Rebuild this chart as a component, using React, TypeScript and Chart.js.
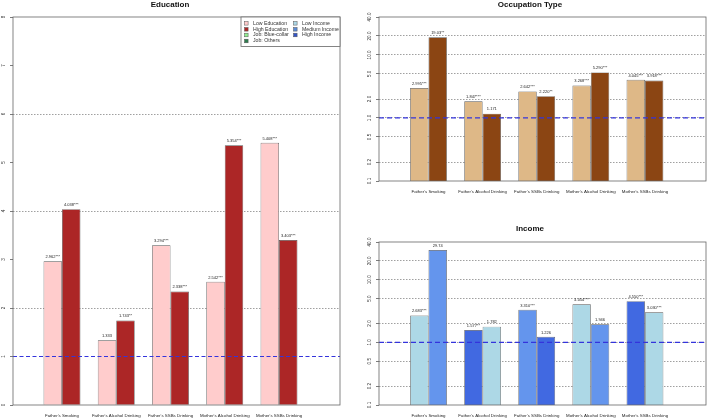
import { useEffect, useRef } from "react"
import { Chart, registerables, type ChartConfiguration, type Plugin } from "chart.js"

Chart.register(...registerables)

const FONT = "'Liberation Sans', Arial, Helvetica, sans-serif"
Chart.defaults.font.family = FONT
Chart.defaults.color = "#222"

// behaviours on the x axis, same order in all three panels
const behaviours = [
  "Father's Smoking",
  "Father's Alcohol Drinking",
  "Father's SSBs Drinking",
  "Mother's Alcohol Drinking",
  "Mother's SSBs Drinking",
]

// Education panel
const lowEducation = [2.962, 1.333, 3.294, 2.542, 5.408]
const lowEducationSig = ["***", "", "***", "***", "***"]
const highEducation = [4.038, 1.743, 2.338, 5.354, 3.403]
const highEducationSig = ["***", "**", "***", "***", "***"]

// Occupation panel
const blueCollar = [2.995, 1.847, 2.642, 3.268, 4.045]
const blueCollarSig = ["***", "***", "***", "***", "***"]
const otherJobs = [19.03, 1.171, 2.22, 5.29, 3.918]
const otherJobsSig = ["**", "", "**", "***", "***"]

// Income panel (each bar has its own income group)
const incomeFirst = [2.683, 1.577, 3.31, 4.054, 4.55]
const incomeFirstSig = ["***", "**", "***", "***", "***"]
const incomeFirstGroup = ["Low", "High", "Medium", "Low", "High"]
const incomeSecond = [29.74, 1.782, 1.226, 1.946, 3.03]
const incomeSecondSig = ["", "", "", "", "***"]
const incomeSecondGroup = ["Medium", "Low", "High", "Medium", "Low"]

const linearTicks = [0, 1, 2, 3, 4, 5, 6, 7, 8]
const logTicks = [0.1, 0.2, 0.5, 1, 2, 5, 10, 20, 40]
const REF_LINE = 1

const legendLabels = [
  "Low Education",
  "High Education",
  "Job: Blue-collar",
  "Job: Others",
  "Low Income",
  "Medium Income",
  "High Income",
]
const legendColors = ["#FFCCCC", "#AC2626", "#90EE90", "#2E7D4F", "#ADD8E6", "#5B8BD6", "#3355C8"]

const incomeColor: Record<string, string> = {
  Low: "#ADD8E6",
  Medium: "#6495ED",
  High: "#4169E1",
}

type Series = { values: number[]; sig: string[]; colors: string | string[] }

type Spec = {
  title: string
  series: Series[]
  log: boolean
  xRange: [number, number]
  yWidth: number
  xHeight: number
  padRight: number
  titlePad: { top: number; bottom: number }
  legend: boolean
}

function decor(spec: Spec): Plugin<"bar"> {
  return {
    id: "decor",
    afterDatasetsDraw(chart) {
      const { ctx, chartArea: a } = chart
      const y = chart.scales.y
      ctx.save()

      // value labels over the bars
      ctx.font = `4px ${FONT}`
      ctx.fillStyle = "#222"
      ctx.textAlign = "center"
      ctx.textBaseline = "middle"
      spec.series.forEach((s, di) => {
        chart.getDatasetMeta(di).data.forEach((bar, i) => {
          ctx.fillText(s.values[i].toPrecision(4) + s.sig[i], bar.x, bar.y - 4.3)
        })
      })

      // reference line at OR = 1
      const ry = y.getPixelForValue(REF_LINE)
      ctx.strokeStyle = "#3434DC"
      ctx.lineWidth = 1.2
      ctx.setLineDash(spec.log ? [5, 3] : [4, 2.5])
      ctx.beginPath()
      ctx.moveTo(a.left, ry)
      ctx.lineTo(a.right, ry)
      ctx.stroke()
      ctx.setLineDash([])

      // box
      ctx.strokeStyle = "#666"
      ctx.lineWidth = 0.8
      ctx.strokeRect(a.left, a.top, a.right - a.left, a.bottom - a.top)

      // rotated y tick labels
      ctx.font = `4.6px ${FONT}`
      ctx.fillStyle = "#333"
      y.ticks.forEach((t) => {
        const py = y.getPixelForValue(t.value)
        ctx.save()
        ctx.translate(a.left - 9.5, py)
        ctx.rotate(-Math.PI / 2)
        ctx.fillText(spec.log ? t.value.toFixed(1) : String(t.value), 0, 0)
        ctx.restore()
      })

      if (spec.legend) {
        const w = 99
        const h = 29.5
        const lx = a.right - w
        const ly = a.top
        ctx.fillStyle = "#fff"
        ctx.fillRect(lx, ly, w, h)
        ctx.strokeStyle = "#666"
        ctx.lineWidth = 0.8
        ctx.strokeRect(lx, ly, w, h)
        ctx.font = `5.2px ${FONT}`
        ctx.textAlign = "left"
        const rows = [6.3, 12.3, 18, 24]
        legendLabels.forEach((label, i) => {
          const col = i < 4 ? 0 : 1
          const row = i < 4 ? i : i - 4
          const sx = lx + (col === 0 ? 3.5 : 52.5)
          const sy = ly + rows[row]
          ctx.fillStyle = legendColors[i]
          ctx.fillRect(sx, sy - 1.8, 3.6, 3.6)
          ctx.strokeStyle = "#555"
          ctx.lineWidth = 0.5
          ctx.strokeRect(sx, sy - 1.8, 3.6, 3.6)
          ctx.fillStyle = "#333"
          ctx.fillText(label, sx + 8.5, sy)
        })
      }
      ctx.restore()
    },
  }
}

function buildConfig(spec: Spec): ChartConfiguration<"bar"> {
  const yTicks = spec.log ? logTicks : linearTicks
  const yMin = yTicks[0]
  const yMax = yTicks[yTicks.length - 1]
  return {
    type: "bar",
    data: {
      datasets: spec.series.map((s) => ({
        data: s.values.map((v, i) => ({ x: i, y: v })),
        backgroundColor: s.colors,
        borderColor: "#555",
        borderWidth: 0.7,
        categoryPercentage: 0.68,
        barPercentage: 1,
      })),
    },
    options: {
      animation: false,
      responsive: true,
      maintainAspectRatio: false,
      layout: { padding: { left: 0, right: spec.padRight, top: 0, bottom: 0 } },
      plugins: {
        legend: { display: false },
        tooltip: { enabled: false },
        title: {
          display: true,
          text: spec.title,
          color: "#111",
          font: { size: 8, weight: "bold", lineHeight: 1.2 },
          padding: spec.titlePad,
        },
      },
      scales: {
        x: {
          type: "linear",
          min: spec.xRange[0],
          max: spec.xRange[1],
          offset: false,
          grid: { display: false, drawTicks: false },
          border: { display: false },
          afterBuildTicks: (scale) => {
            scale.ticks = behaviours.map((_, i) => ({ value: i }))
          },
          afterFit: (scale) => {
            scale.height = spec.xHeight
          },
          ticks: {
            autoSkip: false,
            maxRotation: 0,
            padding: 8.5,
            color: "#222",
            font: { size: 4.4 },
            callback: (v) => behaviours[Number(v)] ?? "",
          },
        },
        y: {
          type: spec.log ? "logarithmic" : "linear",
          min: yMin,
          max: yMax,
          afterBuildTicks: (scale) => {
            scale.ticks = yTicks.map((v) => ({ value: v }))
          },
          afterFit: (scale) => {
            scale.width = spec.yWidth
          },
          ticks: { display: false },
          border: { display: false, dash: [1.5, 1.5] },
          grid: {
            lineWidth: 0.7,
            tickLength: 3,
            tickColor: "#444",
            color: (c) => {
              const v = c.tick?.value
              if (v === undefined || v <= yMin || v >= yMax) return "rgba(0,0,0,0)"
              if (!spec.log && v % 2 !== 0) return "rgba(0,0,0,0)"
              return "#777"
            },
          },
        },
      },
    },
    plugins: [decor(spec)],
  }
}

const educationSpec: Spec = {
  title: "Education",
  series: [
    { values: lowEducation, sig: lowEducationSig, colors: "#FFCCCC" },
    { values: highEducation, sig: highEducationSig, colors: "#AC2626" },
  ],
  log: false,
  xRange: [-0.903, 5.124],
  yWidth: 13,
  xHeight: 15,
  padRight: 14,
  titlePad: { top: 0, bottom: 7.4 },
  legend: true,
}

const occupationSpec: Spec = {
  title: "Occupation Type",
  series: [
    { values: blueCollar, sig: blueCollarSig, colors: "#DEB887" },
    { values: otherJobs, sig: otherJobsSig, colors: "#8B4513" },
  ],
  log: true,
  xRange: [-0.915, 5.128],
  yWidth: 25,
  xHeight: 29,
  padRight: 2,
  titlePad: { top: 0, bottom: 7.4 },
  legend: false,
}

const incomeSpec: Spec = {
  title: "Income",
  series: [
    { values: incomeFirst, sig: incomeFirstSig, colors: incomeFirstGroup.map((g) => incomeColor[g]) },
    { values: incomeSecond, sig: incomeSecondSig, colors: incomeSecondGroup.map((g) => incomeColor[g]) },
  ],
  log: true,
  xRange: [-0.915, 5.128],
  yWidth: 25,
  xHeight: 15,
  padRight: 2,
  titlePad: { top: 14.2, bottom: 8.2 },
  legend: false,
}

function Panel({ spec, left, top, width, height }: { spec: Spec; left: number; top: number; width: number; height: number }) {
  const canvasRef = useRef<HTMLCanvasElement>(null)

  useEffect(() => {
    if (!canvasRef.current) return
    const chart = new Chart(canvasRef.current, buildConfig(spec))
    return () => chart.destroy()
  }, [spec])

  return (
    <div style={{ position: "absolute", left, top, width, height }}>
      <canvas ref={canvasRef} />
    </div>
  )
}

export default function App() {
  return (
    <div style={{ position: "absolute", left: 0, top: 0, width: 708, height: 420, background: "#fff" }}>
      <Panel spec={educationSpec} left={0} top={0} width={354} height={420} />
      <Panel spec={occupationSpec} left={354} top={0} width={354} height={210} />
      <Panel spec={incomeSpec} left={354} top={210} width={354} height={210} />
    </div>
  )
}
